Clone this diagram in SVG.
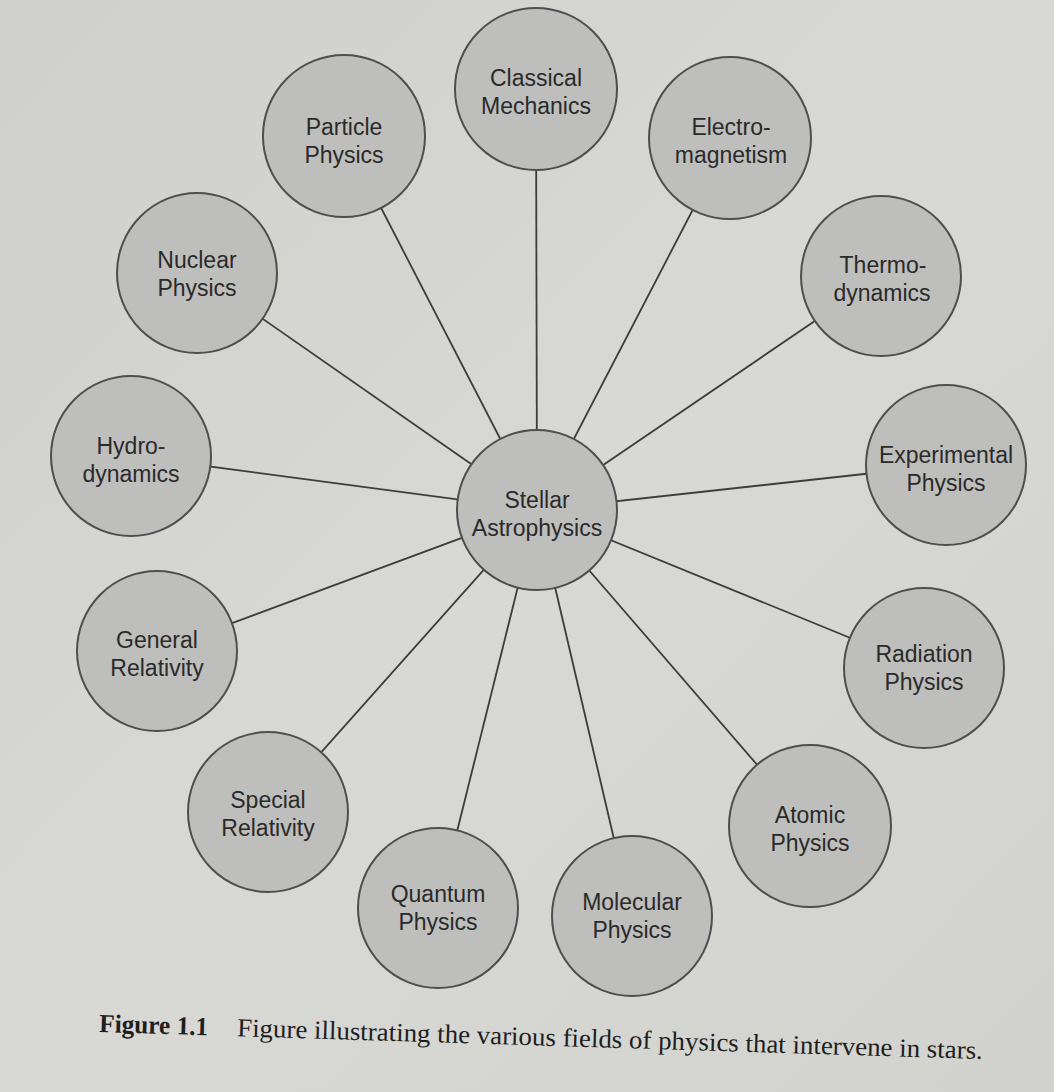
<svg xmlns="http://www.w3.org/2000/svg" width="1054" height="1092" viewBox="0 0 1054 1092">
  <defs>
    <linearGradient id="page" x1="0" y1="0" x2="1" y2="1">
      <stop offset="0" stop-color="#cfcfcb"/>
      <stop offset="0.5" stop-color="#d8d8d5"/>
      <stop offset="1" stop-color="#d2d2cf"/>
    </linearGradient>
    <style>
      .node circle { fill: #bebebc; stroke: #4e4e4e; stroke-width: 2; }
      .node text { font-family: "Liberation Sans", Arial, sans-serif; font-size: 23px; fill: #2a2a2a; text-anchor: middle; }
      #connectors line { stroke: #3c3c3c; stroke-width: 1.8; }
      .cap { font-family: "Liberation Serif", "Times New Roman", serif; font-size: 26px; fill: #1e1e1e; }
    </style>
  </defs>
  <rect width="1054" height="1092" fill="url(#page)"/>

  <g id="connectors">
    <line x1="537" y1="510" x2="536" y2="89"/>
    <line x1="537" y1="510" x2="344" y2="136"/>
    <line x1="537" y1="510" x2="730" y2="138"/>
    <line x1="537" y1="510" x2="881" y2="276"/>
    <line x1="537" y1="510" x2="946" y2="465"/>
    <line x1="537" y1="510" x2="924" y2="668"/>
    <line x1="537" y1="510" x2="810" y2="826"/>
    <line x1="537" y1="510" x2="632" y2="916"/>
    <line x1="537" y1="510" x2="438" y2="908"/>
    <line x1="537" y1="510" x2="268" y2="812"/>
    <line x1="537" y1="510" x2="157" y2="651"/>
    <line x1="537" y1="510" x2="131" y2="456"/>
    <line x1="537" y1="510" x2="197" y2="273"/>
  </g>

  <g id="stellar" class="node">
    <circle cx="537" cy="510" r="80"/>
    <text x="537" y="508">Stellar</text>
    <text x="537" y="536">Astrophysics</text>
  </g>
  <g id="classical" class="node">
    <circle cx="536" cy="89" r="81"/>
    <text x="536" y="86">Classical</text>
    <text x="536" y="114">Mechanics</text>
  </g>
  <g id="particle" class="node">
    <circle cx="344" cy="136" r="81"/>
    <text x="344" y="135">Particle</text>
    <text x="344" y="163">Physics</text>
  </g>
  <g id="electro" class="node">
    <circle cx="730" cy="138" r="81"/>
    <text x="731" y="135">Electro-</text>
    <text x="731" y="163">magnetism</text>
  </g>
  <g id="thermo" class="node">
    <circle cx="881" cy="276" r="80"/>
    <text x="883" y="273">Thermo-</text>
    <text x="882" y="301">dynamics</text>
  </g>
  <g id="experimental" class="node">
    <circle cx="946" cy="465" r="80"/>
    <text x="946" y="463">Experimental</text>
    <text x="946" y="491">Physics</text>
  </g>
  <g id="radiation" class="node">
    <circle cx="924" cy="668" r="80"/>
    <text x="924" y="662">Radiation</text>
    <text x="924" y="690">Physics</text>
  </g>
  <g id="atomic" class="node">
    <circle cx="810" cy="826" r="81"/>
    <text x="810" y="823">Atomic</text>
    <text x="810" y="851">Physics</text>
  </g>
  <g id="molecular" class="node">
    <circle cx="632" cy="916" r="80"/>
    <text x="632" y="910">Molecular</text>
    <text x="632" y="938">Physics</text>
  </g>
  <g id="quantum" class="node">
    <circle cx="438" cy="908" r="80"/>
    <text x="438" y="902">Quantum</text>
    <text x="438" y="930">Physics</text>
  </g>
  <g id="special" class="node">
    <circle cx="268" cy="812" r="80"/>
    <text x="268" y="808">Special</text>
    <text x="268" y="836">Relativity</text>
  </g>
  <g id="general" class="node">
    <circle cx="157" cy="651" r="80"/>
    <text x="157" y="648">General</text>
    <text x="157" y="676">Relativity</text>
  </g>
  <g id="hydro" class="node">
    <circle cx="131" cy="456" r="80"/>
    <text x="131" y="454">Hydro-</text>
    <text x="131" y="482">dynamics</text>
  </g>
  <g id="nuclear" class="node">
    <circle cx="197" cy="273" r="80"/>
    <text x="197" y="268">Nuclear</text>
    <text x="197" y="296">Physics</text>
  </g>

  <g id="caption" transform="rotate(1.75 99 1032)">
    <text class="cap" x="99" y="1032" font-weight="bold" textLength="109" lengthAdjust="spacingAndGlyphs">Figure 1.1</text>
    <text class="cap" x="237" y="1032" textLength="746" lengthAdjust="spacingAndGlyphs">Figure illustrating the various fields of physics that intervene in stars.</text>
  </g>
</svg>
